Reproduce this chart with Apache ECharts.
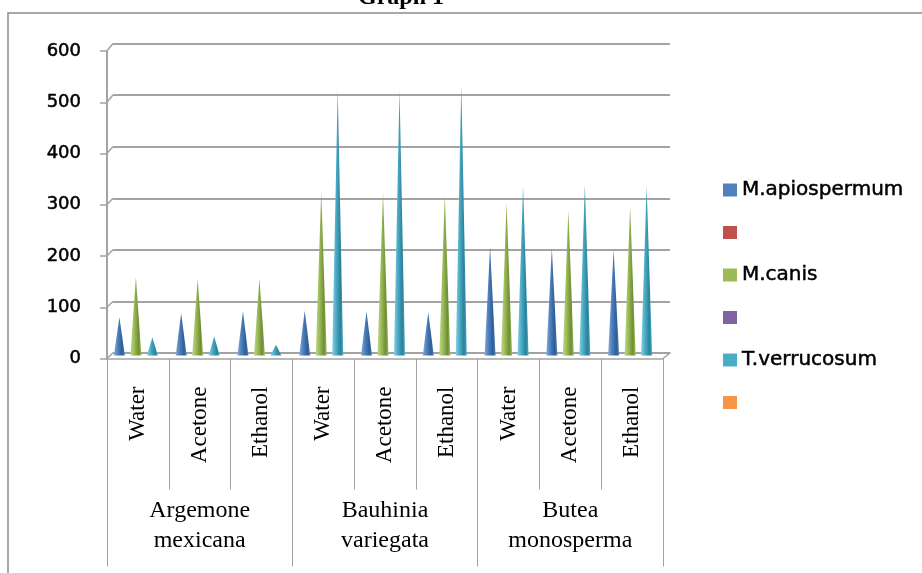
<!DOCTYPE html>
<html>
<head>
<meta charset="utf-8">
<title>Graph 1</title>
<script src="https://cdn.jsdelivr.net/npm/echarts@6/dist/echarts.min.js"></script>
<style>
  html, body { margin: 0; padding: 0; background: #ffffff; }
  #chart { width: 922px; height: 573px; }
</style>
</head>
<body>
<div id="chart"></div>
<script>
// Solvent extracts per plant (inner axis level) and the plants (outer level)
const solvents = ['Water', 'Acetone', 'Ethanol', 'Water', 'Acetone', 'Ethanol', 'Water', 'Acetone', 'Ethanol'];
const plants = ['Argemone\nmexicana', 'Bauhinia\nvariegata', 'Butea\nmonosperma'];

// Values per fungus, one per solvent extract
const mApiospermum = [74, 82, 86, 87, 86, 84, 211, 208, 205];
const mCanis = [152, 149, 149, 318, 315, 311, 296, 281, 289];
const tVerrucosum = [35, 37, 21, 515, 515, 525, 328, 331, 328];

// Value axis ticks
const yTicks = [0, 100, 200, 300, 400, 500, 600];

// Legend entries (the blank ones carry no data)
const legendNames = ['M.apiospermum', '\u00a0', 'M.canis', '\u00a0\u00a0', 'T.verrucosum', '\u00a0\u00a0\u00a0'];
const legendColors = ['#4F81BD', '#C0504D', '#9BBB59', '#8064A2', '#4BACC6', '#F79646'];

const yMin = yTicks[0];
const yMax = yTicks[yTicks.length - 1];
const yStep = yTicks[1] - yTicks[0];

function coneFill(light, base, dark) {
  return new echarts.graphic.LinearGradient(0, 0, 1, 0, [
    { offset: 0, color: light },
    { offset: 0.35, color: base },
    { offset: 0.75, color: dark },
    { offset: 1, color: base }
  ]);
}

function cone(name, data, light, base, dark) {
  return {
    name: name,
    type: 'pictorialBar',
    xAxisIndex: 3,
    yAxisIndex: 2,
    symbol: 'triangle',
    symbolSize: ['100%', '100%'],
    symbolPosition: 'start',
    barWidth: 11,
    barGap: '50%',
    itemStyle: { color: coneFill(light, base, dark) },
    data: data
  };
}

function blank(name, color) {
  return {
    name: name,
    type: 'line',
    xAxisIndex: 3,
    yAxisIndex: 2,
    itemStyle: { color: color },
    data: []
  };
}

const gray = '#a3a3a3';

const chart = echarts.init(document.getElementById('chart'), null, { renderer: 'canvas' });

const baseGraphics = [
  {
    type: 'rect',
    shape: { x: 8, y: 13, width: 1000, height: 700 },
    style: { fill: 'none', stroke: '#8c8c8c', lineWidth: 1.5 },
    silent: true
  },
  {
    type: 'polyline',
    shape: { points: [[663, 358.5], [670, 353]] },
    style: { stroke: gray, lineWidth: 1.5, fill: 'none' },
    silent: true
  }
];

chart.setOption({
  animation: false,
  backgroundColor: '#ffffff',
  title: {
    text: 'Graph 1',
    left: 358,
    top: -14,
    padding: 0,
    textStyle: { fontFamily: 'Liberation Serif', fontWeight: 'bold', fontSize: 24, color: '#000' }
  },
  legend: {
    orient: 'vertical',
    left: 723,
    top: 179,
    padding: 0,
    icon: 'rect',
    itemWidth: 14,
    itemHeight: 13,
    itemGap: 20.5,
    selectedMode: false,
    data: legendNames.map((n, i) => ({ name: n, itemStyle: { color: legendColors[i] } })),
    textStyle: {
      fontFamily: 'DejaVu Sans', fontSize: 20, lineHeight: 22, color: '#000',
      textBorderColor: '#000', textBorderWidth: 0.5
    }
  },
  grid: [
    // front plane: axis labels and category dividers
    { left: 107, top: 51, width: 556, height: 307.5 },
    // back wall: gridlines and floor back edge
    { left: 113, top: 43.5, width: 557, height: 309.5 },
    // cones, at mid depth
    { left: 105, top: 46, width: 556, height: 309.5 }
  ],
  xAxis: [
    {
      gridIndex: 0,
      type: 'category',
      data: solvents,
      axisLine: { show: true, lineStyle: { color: gray, width: 1.5 } },
      axisTick: { show: true, interval: 0, length: 131, lineStyle: { color: gray, width: 1 } },
      axisLabel: {
        interval: 0,
        rotate: 90,
        margin: 28,
        fontFamily: 'Liberation Serif',
        fontSize: 23,
        color: '#000'
      },
      splitLine: { show: false }
    },
    {
      gridIndex: 0,
      type: 'category',
      position: 'bottom',
      data: plants,
      axisLine: { show: false },
      axisTick: { show: true, interval: 0, length: 208, lineStyle: { color: gray, width: 1 } },
      axisLabel: {
        interval: 0,
        margin: 137,
        fontFamily: 'Liberation Serif',
        fontSize: 24,
        lineHeight: 30,
        color: '#000'
      },
      splitLine: { show: false }
    },
    {
      gridIndex: 1,
      type: 'category',
      data: solvents,
      axisLine: { show: true, lineStyle: { color: gray, width: 1.5 } },
      axisTick: { show: false },
      axisLabel: { show: false },
      splitLine: { show: false }
    },
    {
      gridIndex: 2,
      type: 'category',
      data: solvents,
      show: false
    }
  ],
  yAxis: [
    {
      gridIndex: 0,
      type: 'value',
      min: yMin,
      max: yMax,
      interval: yStep,
      axisLine: { show: true, lineStyle: { color: gray, width: 2 } },
      axisTick: { show: true, length: 7, lineStyle: { color: gray, width: 1.5 } },
      axisLabel: {
        margin: 26, fontFamily: 'DejaVu Sans', fontSize: 18, color: '#000',
        textBorderColor: '#000', textBorderWidth: 0.5
      },
      splitLine: { show: false }
    },
    {
      gridIndex: 1,
      type: 'value',
      min: yMin,
      max: yMax,
      interval: yStep,
      axisLine: { show: false },
      axisTick: { show: false },
      axisLabel: { show: false },
      splitLine: { show: true, lineStyle: { color: gray, width: 2 } }
    },
    {
      gridIndex: 2,
      type: 'value',
      min: yMin,
      max: yMax,
      show: false,
      splitLine: { show: false }
    }
  ],
  graphic: baseGraphics,
  series: [
    cone('M.apiospermum', mApiospermum, '#86a9d8', '#4F81BD', '#2f5d96'),
    blank('\u00a0', '#C0504D'),
    cone('M.canis', mCanis, '#bfd88a', '#9BBB59', '#6f8d33'),
    blank('\u00a0\u00a0', '#8064A2'),
    cone('T.verrucosum', tVerrucosum, '#86cfe2', '#4BACC6', '#2a8199'),
    blank('\u00a0\u00a0\u00a0', '#F79646')
  ]
});

// Short slanted joins from each front tick to the matching back-wall gridline
const frontX = chart.convertToPixel({ xAxisIndex: 0 }, 0) - 31;
const backX = chart.convertToPixel({ xAxisIndex: 2 }, 0) - 31;
const joins = yTicks.map(v => ({
  type: 'polyline',
  shape: {
    points: [
      [frontX, chart.convertToPixel({ yAxisIndex: 0 }, v)],
      [backX, chart.convertToPixel({ yAxisIndex: 1 }, v)]
    ]
  },
  style: { stroke: gray, lineWidth: 1.5, fill: 'none' },
  silent: true
}));
chart.setOption({ graphic: baseGraphics.concat(joins) });
</script>
</body>
</html>
